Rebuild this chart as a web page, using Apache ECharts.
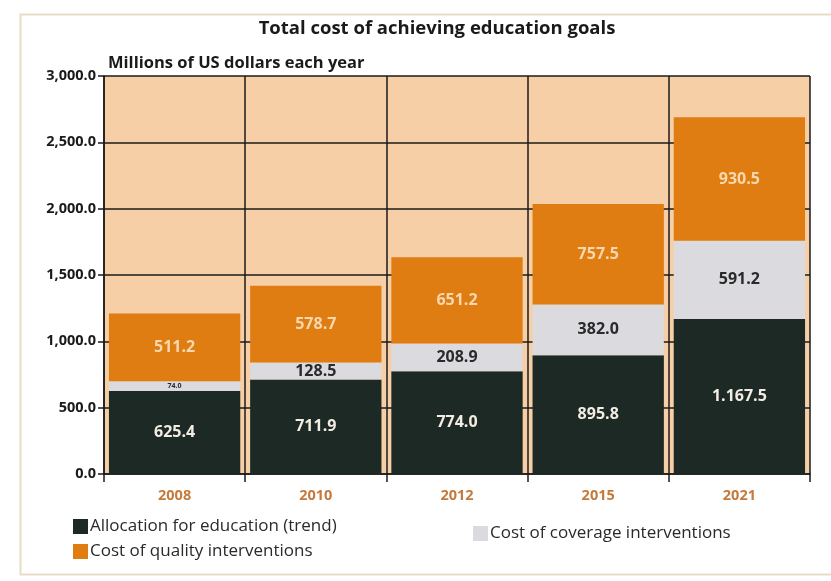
<!DOCTYPE html>
<html>
<head>
<meta charset="utf-8">
<script src="https://cdn.jsdelivr.net/npm/echarts@6/dist/echarts.min.js"></script>
<style>
  html, body { margin: 0; padding: 0; background: #ffffff; }
  #chart { width: 831px; height: 581px; }
</style>
</head>
<body>
<div id="chart"></div>
<script>
// Years shown along the bottom
const years = ['2008', '2010', '2012', '2015', '2021'];
// Millions of US dollars per year
const allocation = [625.4, 711.9, 774.0, 895.8, 1167.5];
const coverage = [74.0, 128.5, 208.9, 382.0, 591.2];
const quality = [511.2, 578.7, 651.2, 757.5, 930.5];
const yTicks = [0, 500, 1000, 1500, 2000, 2500, 3000];

const FONT = '"Open Sans", Lato, sans-serif';

// Axis numbers use a comma for thousands; bar labels use a point
const fmtAxis = v => v.toLocaleString('en-US', { minimumFractionDigits: 1, maximumFractionDigits: 1 });
const fmtBar = v => fmtAxis(v).replace(/,/g, '.');

const chart = echarts.init(document.getElementById('chart'));

function labelFor(color, size) {
  return {
    show: true,
    position: 'inside',
    color: color,
    fontFamily: FONT,
    fontWeight: 'bold',
    fontSize: size,
    formatter: p => fmtBar(p.value)
  };
}

const coverageData = coverage.map(v => (
  v < 100 ? { value: v, label: { fontSize: 7 } } : v
));

chart.setOption({
  animation: false,
  backgroundColor: '#ffffff',
  title: [
    {
      text: 'Total cost of achieving education goals',
      left: 432, top: 14, textAlign: 'center',
      textStyle: { fontFamily: FONT, fontWeight: 'bold', fontSize: 18.5, color: '#1a1a1a' }
    },
    {
      text: 'Millions of US dollars each year',
      left: 103, top: 50,
      textStyle: { fontFamily: FONT, fontWeight: 'bold', fontSize: 16.5, color: '#1a1a1a' }
    }
  ],
  legend: [
    {
      data: ['Allocation for education (trend)', 'Cost of quality interventions'],
      orient: 'vertical', left: 68, top: 513, itemGap: 8,
      itemWidth: 15, itemHeight: 15, icon: 'rect',
      textStyle: { fontFamily: FONT, fontSize: 17, color: '#2a2a2a', padding: [0, 0, 0, -3] },
      selectedMode: false
    },
    {
      data: ['Cost of coverage interventions'],
      orient: 'vertical', left: 468, top: 520,
      itemWidth: 15, itemHeight: 15, icon: 'rect',
      textStyle: { fontFamily: FONT, fontSize: 17, color: '#2a2a2a', padding: [0, 0, 0, -3] },
      selectedMode: false
    }
  ],
  grid: { left: 104, right: 21, top: 76, bottom: 107, show: true, backgroundColor: '#f6cfa6', borderWidth: 0 },
  xAxis: {
    type: 'category',
    data: years,
    axisLine: { show: true, lineStyle: { color: '#1a1a1a', width: 1.5 } },
    axisTick: { show: true, length: 8, lineStyle: { color: '#1a1a1a', width: 1.5 } },
    splitLine: { show: true, lineStyle: { color: '#1a1a1a', width: 1.5 } },
    axisLabel: { fontFamily: FONT, fontWeight: 'bold', fontSize: 14.5, color: '#c47a3c', margin: 14 }
  },
  yAxis: {
    type: 'value',
    min: 0, max: 3000, interval: 500,
    axisLine: { show: true, lineStyle: { color: '#1a1a1a', width: 1.5 } },
    axisTick: { show: true, length: 6, lineStyle: { color: '#1a1a1a', width: 1.5 } },
    splitLine: { show: true, lineStyle: { color: '#1a1a1a', width: 1.5 } },
    axisLabel: {
      fontFamily: FONT, fontWeight: 'bold', fontSize: 14.5, color: '#1a1a1a', margin: 8,
      formatter: v => yTicks.includes(v) ? fmtAxis(v) : ''
    }
  },
  series: [
    {
      name: 'Allocation for education (trend)',
      type: 'bar', stack: 'total', data: allocation,
      barCategoryGap: '7%',
      itemStyle: { color: '#1d2925' },
      label: labelFor('#f2ece2', 16)
    },
    {
      name: 'Cost of coverage interventions',
      type: 'bar', stack: 'total', data: coverageData,
      itemStyle: { color: '#dbdadf' },
      label: labelFor('#2a2a2a', 16)
    },
    {
      name: 'Cost of quality interventions',
      type: 'bar', stack: 'total', data: quality,
      itemStyle: { color: '#e07d12' },
      label: labelFor('#f8d8ae', 16)
    }
  ],
  graphic: [
    {
      type: 'rect', left: 18, top: 12, silent: true,
      shape: { width: 830, height: 560 },
      style: { fill: 'none', stroke: '#e9dcc4', lineWidth: 2 }
    }
  ]
});
</script>
</body>
</html>
